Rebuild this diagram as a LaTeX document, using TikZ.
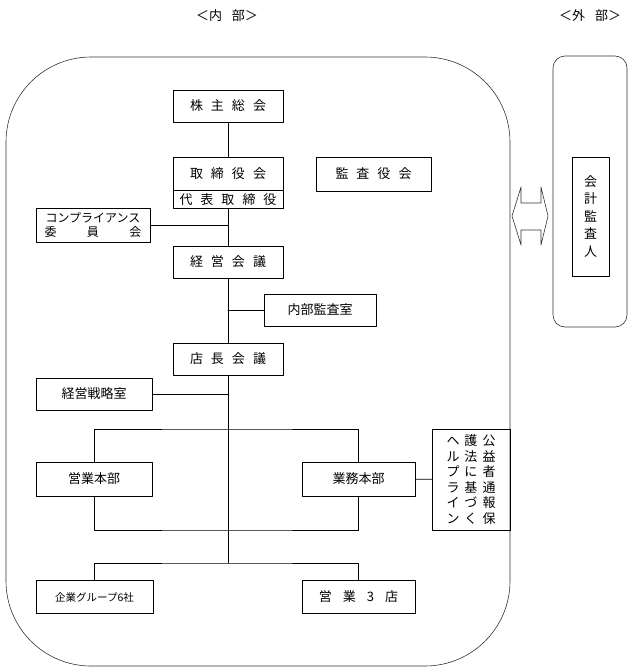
\documentclass[tikz,border=0pt]{standalone}
\usepackage{fontspec}
\setmainfont{Noto Sans CJK JP}
\newcommand\setgap[1]{\spaceskip #1\relax}
\begin{document}
\begin{tikzpicture}[x=1pt,y=-1pt,line join=round,line cap=round,
  font={\fontsize{13}{15}\selectfont\setgap{8pt}},
  box/.style={draw,line width=0.8pt,inner sep=0pt,minimum height=32pt},
  frame/.style={draw,line width=0.6pt,black!80},
  link/.style={draw,line width=0.8pt}]
\useasboundingbox (0,0) rectangle (633,672);
\draw[frame,rounded corners=85pt] (6,57) rectangle (510,666);
\draw[frame,rounded corners=12pt] (553,56) rectangle (627,327);
\node (naibuhd) at (227,16) {＜内\hspace{10pt}部＞};
\node (gaibuhd) at (590,16) {＜外\hspace{10pt}部＞};
\node[box,minimum width=110pt] (soukai) at (228,106) {株 主 総 会};
\node[box,minimum width=110pt,minimum height=33pt] (torishimari) at (228,173.5) {取 締 役 会};
\node[box,minimum width=110pt,minimum height=18pt,anchor=north] (daihyo) at (torishimari.south) {代 表 取 締 役};
\node[box,minimum width=115pt,minimum height=34pt] (kansa) at (373.5,174) {監 査 役 会};
\node[box,minimum width=114pt,minimum height=34pt,align=center,font={\fontsize{12}{14.5}\selectfont}] (comp) at (93,225) {コンプライアンス\\\makebox[97pt]{委\hfill 員\hfill 会}};
\node[box,minimum width=110pt] (keiei) at (228,262) {経 営 会 議};
\node[box,minimum width=112pt] (naibu) at (320,310) {内部監査室};
\node[box,minimum width=110pt] (tencho) at (228,359) {店 長 会 議};
\node[box,minimum width=116pt] (senryaku) at (94,394) {経営戦略室};
\node[box,minimum width=116pt,minimum height=34pt] (eigyo) at (94,479) {営業本部};
\node[box,minimum width=113pt,minimum height=34pt] (gyomu) at (358.5,479) {業務本部};
\node[box,minimum width=78pt,minimum height=101pt,align=center,font={\fontsize{13}{15.5}\selectfont\setgap{5pt}}] (koeki) at (471,479.5) {ヘ 護 公\\ル 法 益\\プ に 者\\ラ 基 通\\イ づ 報\\ン く 保};
\node[box,minimum width=117pt,minimum height=33pt,font={\fontsize{10.5}{12}\selectfont}] (kigyo) at (94.5,597) {企業グループ6社};
\node[box,minimum width=113pt,minimum height=33pt,font={\fontsize{13}{15}\selectfont\setgap{11pt}}] (ten3) at (358.5,597) {営 業 3 店};
\node[box,minimum width=37pt,minimum height=119pt,align=center,font={\fontsize{13}{17.5}\selectfont}] (kaikei) at (590.5,216.5) {会\\計\\監\\査\\人};
\coordinate (btop) at (228,429);
\coordinate (bbot) at (228,530);
\coordinate (split) at (228,563);
\draw[link] (soukai) -- (torishimari);
\draw[link] (daihyo) -- (keiei);
\draw[link] (keiei) -- (tencho);
\draw[link] (tencho) -- (split);
\draw[link] (comp) -- (comp -| daihyo);
\draw[link] (naibu) -- (naibu -| keiei);
\draw[link] (senryaku) -- (senryaku -| tencho);
\draw[link] (eigyo) |- (btop) -| (gyomu);
\draw[link] (eigyo) |- (bbot) -| (gyomu);
\draw[link] (kigyo) |- (split) -| (ten3);
\draw[link] (gyomu) -- (koeki);
\draw[frame] (512,216) -- (521,187) -- (521,203) -- (541,203) -- (541,187) -- (548,216)
  -- (541,245) -- (541,230) -- (521,230) -- (521,245) -- cycle;
\end{tikzpicture}
\end{document}
